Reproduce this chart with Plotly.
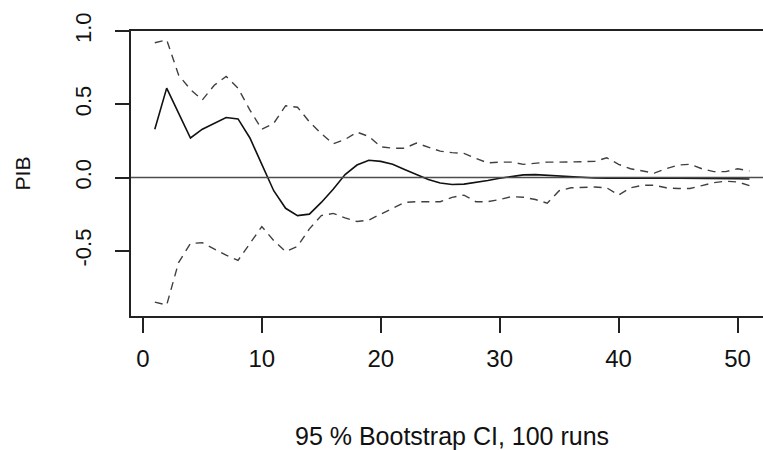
import plotly.graph_objects as go

steps = list(range(1, 52))

irf = [0.33, 0.61, 0.44, 0.27, 0.33, 0.37, 0.41, 0.40, 0.27, 0.09,
       -0.09, -0.21, -0.26, -0.25, -0.17, -0.08, 0.02, 0.085, 0.118, 0.11,
       0.09, 0.055, 0.022, -0.014, -0.037, -0.048, -0.045, -0.035, -0.02, -0.005,
       0.008, 0.018, 0.02, 0.015, 0.008, 0.003, 0.0, -0.003, -0.005, -0.006,
       -0.006, -0.006, -0.005, -0.005, -0.004, -0.004, -0.004, -0.005, -0.006, -0.008,
       -0.01]

upper = [0.92, 0.94, 0.70, 0.60, 0.53, 0.63, 0.69, 0.61, 0.46, 0.33,
         0.37, 0.49, 0.48, 0.38, 0.30, 0.23, 0.26, 0.31, 0.28, 0.21,
         0.20, 0.20, 0.235, 0.21, 0.18, 0.17, 0.165, 0.13, 0.10, 0.105,
         0.105, 0.09, 0.10, 0.105, 0.105, 0.105, 0.105, 0.11, 0.135, 0.09,
         0.06, 0.045, 0.03, 0.06, 0.085, 0.09, 0.06, 0.04, 0.04, 0.06,
         0.045]

lower = [-0.85, -0.87, -0.58, -0.45, -0.445, -0.49, -0.53, -0.565, -0.45, -0.335,
         -0.43, -0.505, -0.47, -0.35, -0.26, -0.245, -0.275, -0.30, -0.29, -0.25,
         -0.215, -0.17, -0.165, -0.165, -0.165, -0.135, -0.12, -0.165, -0.165, -0.15,
         -0.13, -0.135, -0.15, -0.175, -0.09, -0.07, -0.065, -0.065, -0.07, -0.12,
         -0.07, -0.053, -0.053, -0.07, -0.075, -0.075, -0.055, -0.035, -0.025, -0.03,
         -0.055]

x_ticks = [0, 10, 20, 30, 40, 50]
y_ticks = [-0.5, 0.0, 0.5, 1.0]
y_tick_text = ["-0.5", "0.0", "0.5", "1.0"]

x_title = "95 % Bootstrap CI, 100 runs"
y_title = "PIB"

FONT = "Liberation Sans, Arial, sans-serif"
INK = "#111111"

fig = go.Figure()
fig.add_trace(go.Scatter(x=steps, y=upper, mode="lines",
                         line=dict(color="#404040", width=1.4, dash="8px,6px"),
                         showlegend=False, hoverinfo="skip"))
fig.add_trace(go.Scatter(x=steps, y=lower, mode="lines",
                         line=dict(color="#404040", width=1.4, dash="8px,6px"),
                         showlegend=False, hoverinfo="skip"))
fig.add_trace(go.Scatter(x=steps, y=irf, mode="lines",
                         line=dict(color="#111111", width=1.6),
                         showlegend=False))

fig.add_hline(y=0, line=dict(color="#4d4d4d", width=1.4))

fig.add_annotation(text=x_title, xref="paper", yref="paper",
                   x=0.508, y=-0.42, xanchor="center", yanchor="middle",
                   showarrow=False, font=dict(size=25, family=FONT, color=INK))
fig.add_annotation(text=y_title, xref="paper", yref="paper",
                   x=-0.171, y=0.5, xanchor="center", yanchor="middle",
                   textangle=-90, showarrow=False,
                   font=dict(size=21, family=FONT, color=INK))

fig.update_layout(
    width=763, height=450,
    margin=dict(l=131, r=0, t=31, b=134),
    paper_bgcolor="white", plot_bgcolor="white",
    font=dict(family=FONT, color=INK),
    xaxis=dict(range=[-1, 52.14], tickmode="array", tickvals=x_ticks,
               showgrid=False, zeroline=False,
               showline=True, linecolor="#222222", linewidth=1.5, mirror=True,
               ticks="outside", ticklen=15, tickwidth=1.5, tickcolor="#222222",
               ticklabelstandoff=5,
               tickfont=dict(size=24, family=FONT, color=INK)),
    yaxis=dict(range=[-0.945, 1.0], tickmode="array", tickvals=y_ticks,
               ticktext=y_tick_text, tickangle=-90,
               showgrid=False, zeroline=False,
               showline=True, linecolor="#222222", linewidth=1.5,
               ticks="outside", ticklen=14, tickwidth=1.5, tickcolor="#222222",
               ticklabelstandoff=15,
               tickfont=dict(size=22, family=FONT, color=INK)),
)

fig.write_html("out.html")
